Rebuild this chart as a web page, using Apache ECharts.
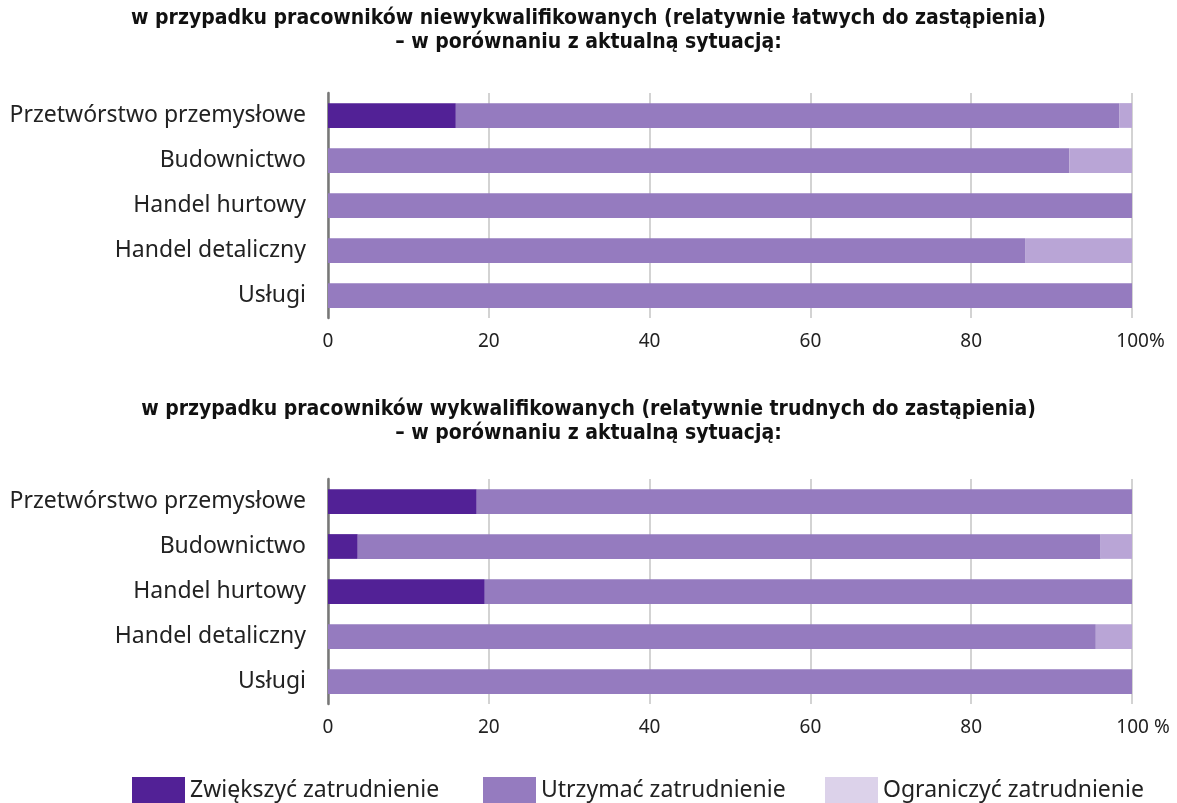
<!DOCTYPE html>
<html><head><meta charset="utf-8">
<script src="https://cdn.jsdelivr.net/npm/echarts@6/dist/echarts.min.js"></script>
<style>html,body{margin:0;padding:0;background:#fff}#c{width:1177px;height:803px}</style>
</head><body><div id="c"></div>
<script>
const categories = ['Przetwórstwo przemysłowe','Budownictwo','Handel hurtowy','Handel detaliczny','Usługi'];
const seriesNames = ['Zwiększyć zatrudnienie','Utrzymać zatrudnienie','Ograniczyć zatrudnienie'];
const title1 = 'w przypadku pracowników niewykwalifikowanych (relatywnie łatwych do zastąpienia)\n– w porównaniu z aktualną sytuacją:';
const title2 = 'w przypadku pracowników wykwalifikowanych (relatywnie trudnych do zastąpienia)\n– w porównaniu z aktualną sytuacją:';
// chart 1: unskilled
const u_inc = [15.9, 0, 0, 0, 0];
const u_keep = [82.5, 92.2, 100, 86.7, 100];
const u_dec = [1.6, 7.8, 0, 13.3, 0];
// chart 2: skilled
const s_inc = [18.5, 3.7, 19.5, 0, 0];
const s_keep = [81.5, 92.4, 80.5, 95.5, 100];
const s_dec = [0, 3.9, 0, 4.5, 0];
const xTicks = [0, 20, 40, 60, 80, 100];

const colors = ['#522196', '#957bbf', '#b9a5d6'];
const legendColors = ['#522196', '#957bbf', '#dcd2ea'];
const FONT = 'Noto Sans';
const COND = '"DejaVu Sans Condensed", "Noto Sans", sans-serif';

function xAxis(gi, pct) {
  return {
    gridIndex: gi, type: 'value', min: 0, max: 100, interval: 20,
    axisLine: {show: false}, axisTick: {show: false},
    splitLine: {show: true, lineStyle: {color: '#c4c4c4', width: 1.5}},
    axisLabel: {
      fontFamily: FONT, fontSize: 19, color: '#222', margin: 14,
      formatter: v => v === 100 ? '{s|}100' + pct : String(v),
      rich: {s: {width: pct === '%' ? 17 : 22}}
    }
  };
}
function yAxis(gi) {
  return {
    gridIndex: gi, type: 'category', data: categories, inverse: true,
    axisLine: {show: true, lineStyle: {color: '#777', width: 2.5}},
    axisTick: {show: false},
    axisLabel: {fontFamily: FONT, fontSize: 23, color: '#222', margin: 22}
  };
}
function bars(gi, arrs) {
  return arrs.map((d, i) => ({
    name: seriesNames[i], type: 'bar', stack: 's' + gi, xAxisIndex: gi, yAxisIndex: gi,
    data: d, barWidth: '55%', itemStyle: {color: colors[i]}, silent: true
  }));
}
const titleStyle = {fontFamily: COND, fontWeight: 'bold', fontSize: 21, color: '#111', lineHeight: 24, align: 'center'};
const legendX = [127, 478, 820];
const option = {
  animation: false,
  title: [
    {text: title1, left: 'center', top: 2, textStyle: titleStyle},
    {text: title2, left: 'center', top: 393, textStyle: titleStyle}
  ],
  legend: seriesNames.map((n, i) => ({
    data: [{name: n, itemStyle: {color: legendColors[i]}}],
    left: legendX[i], top: 772, itemWidth: 53, itemHeight: 26, itemGap: 0, padding: 5,
    selectedMode: false, icon: 'rect',
    textStyle: {fontFamily: FONT, fontSize: 23, color: '#222'}
  })),
  grid: [
    {left: 328, right: 45, top: 93, height: 225},
    {left: 328, right: 45, top: 479, height: 225}
  ],
  xAxis: [xAxis(0, '%'), xAxis(1, ' %')],
  yAxis: [yAxis(0), yAxis(1)],
  series: [...bars(0, [u_inc, u_keep, u_dec]), ...bars(1, [s_inc, s_keep, s_dec])]
};
echarts.init(document.getElementById('c')).setOption(option);
</script></body></html>
